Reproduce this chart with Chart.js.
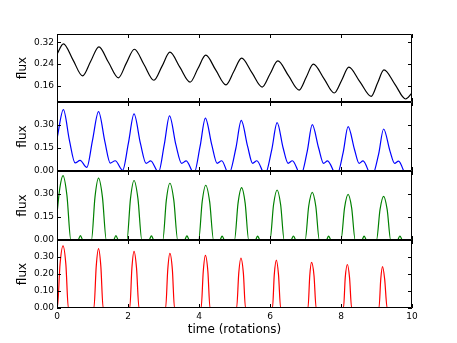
<!DOCTYPE html>
<html>
<head>
<meta charset="utf-8">
<script src="https://cdn.jsdelivr.net/npm/chart.js@4.4.0/dist/chart.umd.min.js"></script>
<style>
  html, body { margin: 0; padding: 0; background: #fff; }
  #wrap { position: relative; width: 457px; height: 343px; overflow: hidden; }
  #wrap canvas { position: absolute; left: 0; }
</style>
</head>
<body>
<div id="wrap">
  <canvas id="c1"></canvas>
  <canvas id="c2"></canvas>
  <canvas id="c3"></canvas>
  <canvas id="c4"></canvas>
</div>
<script>
// shared time axis (rotations)
const timeTicks = [0, 2, 4, 6, 8, 10];

// panel 1 - black
const blackT = [0.00, 0.18, 0.45, 0.72, 0.95, 1.18, 1.45, 1.73, 1.95, 2.18, 2.45, 2.73, 2.96, 3.18, 3.46, 3.75,
  3.97, 4.19, 4.47, 4.76, 4.98, 5.20, 5.49, 5.78, 6.00, 6.22, 6.52, 6.82, 7.02, 7.22, 7.52, 7.81,
  8.02, 8.22, 8.53, 8.85, 9.03, 9.21, 9.52, 9.82, 10.0];
const blackFlux = [0.276, 0.314, 0.255, 0.196, 0.250, 0.303, 0.246, 0.189, 0.242, 0.294, 0.238, 0.180, 0.232, 0.283, 0.228, 0.173,
  0.223, 0.272, 0.218, 0.163, 0.212, 0.261, 0.208, 0.155, 0.203, 0.251, 0.197, 0.144, 0.191, 0.239, 0.186, 0.133,
  0.180, 0.228, 0.175, 0.121, 0.170, 0.218, 0.165, 0.111, 0.133];
const blackTicks = [0.16, 0.24, 0.32];

// panel 2 - blue
const blueT = [0.00, 0.18, 0.35, 0.51, 0.65, 0.84,
  1.00, 1.17, 1.35, 1.50, 1.64, 1.85,
  2.01, 2.17, 2.35, 2.51, 2.64, 2.86,
  3.02, 3.17, 3.35, 3.51, 3.64, 3.86,
  4.03, 4.18, 4.36, 4.51, 4.64, 4.84,
  5.04, 5.19, 5.37, 5.51, 5.63, 5.86,
  6.05, 6.20, 6.37, 6.51, 6.63, 6.87,
  7.05, 7.19, 7.37, 7.51, 7.62, 7.88,
  8.06, 8.20, 8.38, 8.51, 8.62, 8.87,
  9.06, 9.20, 9.38, 9.51, 9.62, 9.87, 10.0];
const blueFlux = [0.21, 0.400, 0.20, 0.053, 0.069, 0.023,
  0.20, 0.387, 0.19, 0.052, 0.067, 0.005,
  0.18, 0.372, 0.18, 0.050, 0.066, -0.008,
  0.17, 0.360, 0.17, 0.050, 0.066, -0.015,
  0.16, 0.345, 0.17, 0.050, 0.067, -0.020,
  0.15, 0.330, 0.16, 0.050, 0.067, -0.022,
  0.14, 0.315, 0.15, 0.050, 0.067, -0.025,
  0.13, 0.302, 0.15, 0.050, 0.066, -0.028,
  0.12, 0.289, 0.14, 0.050, 0.066, -0.035,
  0.11, 0.274, 0.13, 0.050, 0.065, -0.040, -0.010];
const blueTicks = [0.00, 0.15, 0.30];

// panel 3 - green
const greenT = [0.00, 0.08, 0.17, 0.28, 0.39, 0.59, 0.66, 0.73,
  0.97, 1.07, 1.17, 1.28, 1.39, 1.59, 1.66, 1.73,
  1.97, 2.07, 2.17, 2.28, 2.39, 2.59, 2.66, 2.73,
  2.98, 3.08, 3.18, 3.29, 3.40, 3.59, 3.66, 3.73,
  3.99, 4.09, 4.19, 4.30, 4.41, 4.59, 4.65, 4.72,
  5.00, 5.10, 5.20, 5.30, 5.40, 5.59, 5.65, 5.72,
  6.00, 6.10, 6.20, 6.30, 6.40, 6.59, 6.66, 6.73,
  6.99, 7.09, 7.19, 7.29, 7.39, 7.59, 7.65, 7.72,
  8.00, 8.10, 8.20, 8.30, 8.40, 8.59, 8.65, 8.72,
  9.00, 9.10, 9.20, 9.30, 9.40, 9.59, 9.66, 9.73, 10.0];
const greenFlux = [0.173, 0.34, 0.420, 0.29, 0, 0, 0.028, 0,
  0, 0.28, 0.403, 0.28, 0, 0, 0.028, 0,
  0, 0.27, 0.388, 0.27, 0, 0, 0.027, 0,
  0, 0.26, 0.370, 0.26, 0, 0, 0.027, 0,
  0, 0.25, 0.357, 0.25, 0, 0, 0.026, 0,
  0, 0.24, 0.341, 0.24, 0, 0, 0.026, 0,
  0, 0.23, 0.326, 0.23, 0, 0, 0.026, 0,
  0, 0.22, 0.311, 0.22, 0, 0, 0.026, 0,
  0, 0.21, 0.298, 0.21, 0, 0, 0.026, 0,
  0, 0.20, 0.285, 0.20, 0, 0, 0.026, 0, 0];
const greenTicks = [0.00, 0.15, 0.30];

// panel 4 - red
const redT = [0.00, 0.01, 0.085, 0.17, 0.25, 0.32,
  1.04, 1.105, 1.17, 1.235, 1.30,
  2.05, 2.11, 2.17, 2.24, 2.31,
  3.06, 3.12, 3.18, 3.25, 3.31,
  4.06, 4.12, 4.18, 4.25, 4.31,
  5.06, 5.12, 5.18, 5.25, 5.31,
  6.07, 6.12, 6.18, 6.24, 6.30,
  7.07, 7.12, 7.17, 7.24, 7.30,
  8.07, 8.12, 8.18, 8.24, 8.30,
  9.07, 9.12, 9.17, 9.23, 9.30, 10.0];
const redFlux = [0, 0, 0.256, 0.366, 0.256, 0,
  0, 0.245, 0.349, 0.245, 0,
  0, 0.235, 0.333, 0.235, 0,
  0, 0.225, 0.321, 0.225, 0,
  0, 0.215, 0.309, 0.215, 0,
  0, 0.205, 0.294, 0.205, 0,
  0, 0.195, 0.282, 0.195, 0,
  0, 0.19, 0.268, 0.19, 0,
  0, 0.18, 0.256, 0.18, 0,
  0, 0.17, 0.243, 0.17, 0, 0];
const redTicks = [0.00, 0.10, 0.20, 0.30];

const FONT = 'DejaVu Sans';

// frame and inward tick marks on all four sides (matplotlib style)
const framePlugin = {
  id: 'frame',
  afterDatasetsDraw(chart, args, opts) {
    const ctx = chart.ctx;
    const a = chart.chartArea;
    const xs = chart.scales.x, ys = chart.scales.y;
    ctx.save();
    ctx.strokeStyle = '#000';
    ctx.lineWidth = 1;
    ctx.beginPath();
    ctx.rect(a.left + 0.5, a.top + 0.5, a.right - a.left - 1, a.bottom - a.top - 1);
    timeTicks.forEach(function(v) {
      const px = Math.round(xs.getPixelForValue(v)) + 0.5;
      ctx.moveTo(px, a.top); ctx.lineTo(px, a.top + 4);
      ctx.moveTo(px, a.bottom); ctx.lineTo(px, a.bottom - 4);
    });
    opts.yTicks.forEach(function(v) {
      const py = Math.round(ys.getPixelForValue(v)) + 0.5;
      ctx.moveTo(a.left, py); ctx.lineTo(a.left + 4, py);
      ctx.moveTo(a.right, py); ctx.lineTo(a.right - 4, py);
    });
    ctx.stroke();
    ctx.restore();
  }
};

function makePanel(id, top, height, t, flux, color, yMin, yMax, yTicks, showX) {
  const canvas = document.getElementById(id);
  canvas.width = 457;
  canvas.height = height;
  canvas.style.top = top + 'px';
  const points = t.map(function(x, i) { return { x: x, y: flux[i] }; });
  return new Chart(canvas, {
    type: 'line',
    data: {
      datasets: [{
        data: points,
        borderColor: color,
        borderWidth: 1.2,
        pointRadius: 0,
        fill: false,
        cubicInterpolationMode: 'monotone'
      }]
    },
    options: {
      responsive: false,
      maintainAspectRatio: false,
      animation: false,
      devicePixelRatio: 1,
      layout: { padding: { top: 10, bottom: showX ? 0 : 10, left: 0, right: 45 } },
      plugins: { legend: { display: false }, tooltip: { enabled: false }, frame: { yTicks: yTicks } },
      scales: {
        x: {
          type: 'linear',
          min: 0,
          max: 10,
          display: showX,
          afterBuildTicks: function(s) { s.ticks = timeTicks.map(function(v) { return { value: v }; }); },
          afterFit: function(s) { if (showX) s.height = 35; },
          grid: { display: false, drawTicks: false },
          border: { display: false },
          ticks: { color: '#000', font: { family: FONT, size: 9 }, padding: 3, maxRotation: 0,
            callback: function(v) { return String(v); } },
          title: { display: true, text: 'time (rotations)', color: '#000',
            font: { family: FONT, size: 12 }, padding: { top: 0, bottom: 6 } }
        },
        y: {
          min: yMin,
          max: yMax,
          afterBuildTicks: function(s) { s.ticks = yTicks.map(function(v) { return { value: v }; }); },
          afterFit: function(s) { s.width = 57; },
          grid: { display: false, drawTicks: false },
          border: { display: false },
          ticks: { color: '#000', font: { family: FONT, size: 9 }, padding: 3,
            callback: function(v) { return v.toFixed(2); } },
          title: { display: true, text: 'flux', color: '#000',
            font: { family: FONT, size: 12 }, padding: { top: 16, bottom: 0 } }
        }
      }
    },
    plugins: [framePlugin]
  });
}

makePanel('c1', 24, 88, blackT, blackFlux, '#000000', 0.10, 0.35, blackTicks, false);
makePanel('c2', 92, 89, blueT, blueFlux, '#0000ff', 0, 0.45, blueTicks, false);
makePanel('c3', 161, 89, greenT, greenFlux, '#008000', 0, 0.45, greenTicks, false);
makePanel('c4', 230, 113, redT, redFlux, '#ff0000', 0, 0.40, redTicks, true);
</script>
</body>
</html>
